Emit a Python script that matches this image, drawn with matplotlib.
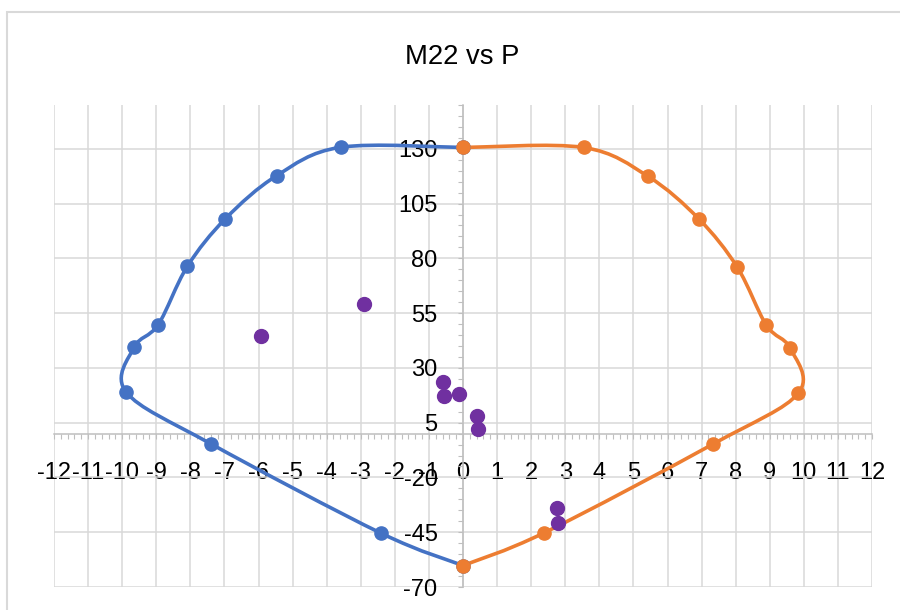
import numpy as np
import matplotlib
matplotlib.use("Agg")
import matplotlib.pyplot as plt
from matplotlib.path import Path
from matplotlib.patches import PathPatch, Rectangle
from matplotlib.ticker import FixedLocator, MultipleLocator

plt.rcParams['font.family'] = ['Liberation Sans', 'DejaVu Sans']
plt.rcParams['axes.unicode_minus'] = False

# data
left_x = [0, -3.59, -5.47, -6.97, -8.09, -8.94, -9.65, -9.88, -7.38, -2.41, 0]
left_y = [130.6, 130.7, 117.7, 98.1, 76.3, 49.8, 39.4, 18.9, -4.8, -45.4, -60.2]

right_x = [0, 3.54, 5.43, 6.92, 8.05, 8.90, 9.60, 9.84, 7.33, 2.39, 0]
right_y = [130.6, 130.6, 117.4, 98.0, 75.9, 49.5, 39.0, 18.5, -4.8, -45.2, -60.2]

load_x = [-5.94, -2.91, -0.58, -0.56, -0.11, 0.40, 0.45, 2.76, 2.79]
load_y = [44.4, 59.0, 23.4, 17.1, 18.0, 7.9, 1.9, -34.1, -40.7]

x_ticks = np.arange(-12, 13, 1)
y_ticks = np.arange(-70, 131, 25)

BLUE = "#4472C4"
ORANGE = "#ED7D31"
PURPLE = "#7030A0"
GRID = "#d9d9d9"
AXIS = "#bfbfbf"


def smooth_path(xs, ys):
    # Excel-like smoothed line: Catmull-Rom as cubic Bezier
    pts = np.column_stack([xs, ys]).astype(float)
    n = len(pts)
    verts = [pts[0]]
    codes = [Path.MOVETO]
    for i in range(n - 1):
        p0 = pts[max(i - 1, 0)]
        p1 = pts[i]
        p2 = pts[i + 1]
        p3 = pts[min(i + 2, n - 1)]
        verts += [p1 + (p2 - p0) / 6, p2 - (p3 - p1) / 6, p2]
        codes += [Path.CURVE4] * 3
    return Path(verts, codes)


fig = plt.figure(figsize=(9, 6.1), dpi=100)
ax = fig.add_axes([0.06, 0.0377, 0.9089, 0.7902])

for xs, ys, c in [(left_x, left_y, BLUE), (right_x, right_y, ORANGE)]:
    ax.add_patch(PathPatch(smooth_path(xs, ys), facecolor="none",
                           edgecolor=c, lw=2.6, zorder=3))
    ax.plot(xs, ys, "o", color=c, ms=9.5, zorder=4)
ax.plot(load_x, load_y, "o", color=PURPLE, ms=10, ls="none", zorder=5)

ax.set_xlim(-12, 12)
ax.set_ylim(-70, 150)
ax.xaxis.set_major_locator(FixedLocator(x_ticks))
ax.yaxis.set_major_locator(FixedLocator(y_ticks))
ax.xaxis.set_minor_locator(MultipleLocator(0.2))
ax.yaxis.set_minor_locator(MultipleLocator(5))

ax.grid(True, which="major", color=GRID, lw=1.1, zorder=0)
ax.set_axisbelow(True)

for side in ["top", "right"]:
    ax.spines[side].set_visible(False)
ax.spines["left"].set_position(("data", 0))
ax.spines["bottom"].set_position(("data", 0))
for side in ["left", "bottom"]:
    ax.spines[side].set_color(AXIS)
    ax.spines[side].set_linewidth(1.1)
    ax.spines[side].set_zorder(1)

ax.tick_params(which="both", direction="out", length=3.3, width=0.8, color=AXIS)
ax.tick_params(axis="x", which="major", labelsize=17, pad=17)
ax.tick_params(axis="y", which="major", labelsize=17, pad=15)

fig.text(462 / 900, 1 - 57 / 610, "M22 vs P", ha="center", va="center",
         fontsize=19.7, color="black")

fig.add_artist(Rectangle((7 / 900, -0.05), 1.2, 1.0303, transform=fig.transFigure,
                         fill=False, ec=GRID, lw=1.5))

plt.savefig("out.png", dpi=100)
